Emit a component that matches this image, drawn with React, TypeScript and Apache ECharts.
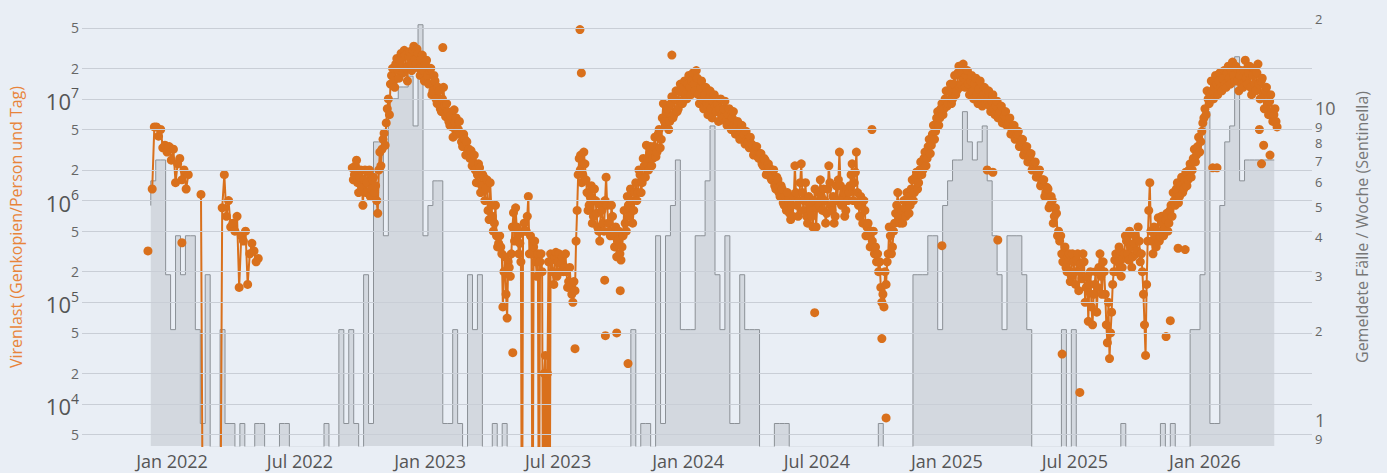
import React, { useEffect, useRef } from 'react';
import * as echarts from 'echarts';

const DAY = 86400000;
const BLD = 0.0001; // below detection limit (drawn under the axis floor), in millions

// Sentinella: reported cases per week, weeks starting at caseWeekStart
const caseWeekStart = '2021-12-02';
const casesPerWeek = [
  5, 6, 7, 7, 3, 2, 4, 3, 4, 4, 2, 1, 3, 0, 0, 2, 1, 1, 0, 1,
  0, 0, 1, 1, 0, 0, 0, 1, 1, 0, 0, 0, 0, 0, 0, 0, 1, 0, 0, 2,
  1, 2, 1, 0, 3, 1, 8, 8, 4, 11, 11, 12, 12, 13, 9, 19, 4, 5, 6, 6,
  1, 1, 2, 1, 0, 3, 2, 3, 0, 0, 1, 0, 1, 0, 0, 0, 0, 0, 0, 0,
  0, 0, 0, 0, 0, 0, 0, 0, 0, 0, 0, 0, 0, 0, 0, 0, 0, 0, 2, 0,
  1, 1, 0, 4, 1, 4, 5, 7, 2, 2, 2, 4, 4, 6, 9, 3, 2, 4, 1, 1,
  3, 2, 2, 2, 0, 0, 0, 1, 1, 1, 0, 0, 0, 0, 0, 0, 0, 0, 0, 0,
  0, 0, 0, 0, 0, 0, 0, 0, 1, 0, 0, 0, 0, 0, 0, 3, 3, 3, 4, 4,
  2, 5, 6, 7, 7, 10, 8, 7, 8, 9, 6, 4, 3, 2, 4, 4, 4, 3, 2, 0,
  0, 0, 0, 0, 0, 2, 0, 2, 0, 0, 0, 0, 0, 0, 0, 0, 0, 1, 0, 0,
  0, 0, 0, 0, 0, 1, 0, 1, 0, 0, 0, 2, 2, 3, 10, 1, 1, 5, 8, 9,
  15, 6, 7, 7, 7, 7, 7,
];

// Viral load, millions of gene copies per person and day.
// "A" arrays: one value every 3 days from the start date; "B" arrays: the
// measurements in between (1.5 days later than the matching A value).
const vl2122Start = '2021-12-04';
const vl2122 = [
  1.3, 5.3, 5.3, 4.3, 5.0, 3.3, 3.5, 3.0, 3.4, 2.5,
  3.2, 1.5, 2.3, 2.6, 1.6, 2.0, 1.3, 1.8, null, null,
  null, null, null, 1.15, BLD, BLD, BLD, BLD, BLD, BLD,
  BLD, BLD, BLD, 0.85, 1.8, 0.7, 1.0, 0.55, 0.6, 0.5,
  0.7, 0.14, 0.45, 0.4, 0.5, 0.15, 0.3, 0.38, 0.32, 0.25,
  0.27,
];

const vl2223Start = '2022-09-13';
const vl2223A = [
  2.1, 1.8, 2.5, 1.2, 2.0, 0.9, 2.0, 1.5, 2.0, 1.3,
  1.7, 1.4, 0.75, 3.0, 3.2, 4.6, 5.8, 10, 14, 20,
  13, 25, 16, 28, 18, 27, 15, 29, 19, 33,
  22, 28, 17, 27, 15, 24, 14, 20, 12, 15,
  9, 12, 7.5, 13, 6.7, 7.5, 5.5, 5.3, 7.8, 6.5,
  5, 4.6, 3.4, 4, 3.8, 3.2, 3.1, 2.4, 2.0, 1.8,
  2.1, 1.4, 1.7, 1.3, 0.8, 1.5, 0.7, 0.6, 0.45, 0.38,
  0.35, 0.09, 0.28, 0.07, 0.22, 0.3, 0.76, 0.85, 0.45, 0.38,
  BLD, 0.6, 0.5, 1.1, 0.45, BLD, 0.4, 0.18, BLD, 0.3,
  BLD, 0.03, 0.02, BLD, 0.26, 0.15, 0.31, 0.25, 0.2, 0.28,
  0.22, 0.2, 0.16, 0.15, 0.1, 0.13, 0.8, 2.6,
];
const vl2223B = [
  1.6, 2.2, 1.5, 1.7, 1.4, 1.6, 1.2, 1.9, 1.1, 1.6,
  1.2, 1.0, 2.0, 2.2, 4.0, 3.5, 8, 7, 17, 15,
  22, 19, 24, 21, 30, 20, 26, 22, 30, 24,
  31, 20, 25, 19, 22, 17, 19, 11, 17, 10,
  13, 8, 10, 8.5, 9, 6, 6.8, 4.2, 5.8, 4.5,
  6, 3.8, 4.5, 2.8, 3.0, 2.6, 2.2, 2.8, 1.5, 2.3,
  1.2, 1.8, 1.0, 1.6, 0.65, 0.9, 0.5, 0.9, 0.35, 0.45,
  0.3, 0.2, 0.12, 0.25, 0.18, 0.55, 0.4, 0.55, 0.3, 0.25,
  0.5, 0.5, 0.7, 0.3, 0.3, 0.35, 0.25, 0.3, 0.25, 0.2,
  0.02, BLD, 0.25, 0.3, 0.2, 0.28, 0.18, 0.3, 0.24, 0.2,
  0.3, 0.14, 0.22, 0.12, 0.16, 0.4, 1.8, 2.0,
];

const vl2324Start = '2023-08-02';
const vl2324A = [
  2.8, 1.8, 2.3, 1.2, 0.9, 1.4, 0.7, 1.0, 0.55, 0.4,
  0.8, 0.5, 1.7, 0.6, 0.45, 0.7, 0.35, 0.28, 0.5, 0.26,
  0.45, 0.6, 1.1, 0.7, 1.0, 0.8, 1.5, 1.2, 1.8, 1.5,
  2.2, 3.5, 2.0, 3.4, 2.6, 4.2, 3.0, 5.0, 4.0, 9,
  5.5, 8, 6, 10.5, 7, 12, 8, 14, 9, 15,
  10, 17, 11, 18, 12, 16, 9,
  15, 8, 13, 7, 12, 6.5, 11, 7.5, 6, 10,
  6.5, 9.5, 5.5, 8, 5, 7.5, 4.5, 6, 4, 5.5,
  4.5, 4.8, 3.8, 4.2, 3.5, 3.0, 3.4, 2.6, 2.9, 2.2,
  2.5, 1.9, 2.1, 1.6, 2.0, 1.3, 1.6, 1.1, 1.3, 0.9,
  0.8, 1.0, 0.65, 0.7, 2.2, 0.9, 1.0, 2.3, 0.8, 1.5,
  0.6, 0.9, 0.7, 1.0, 0.55, 1.2, 1.6, 0.8, 1.0, 0.75,
  2.2, 0.9, 1.1, 0.7, 1.0, 3.0, 0.9, 1.2, 0.8, 1.0,
  1.4, 2.3, 1.5, 3.0, 0.9, 1.1, 0.6, 0.8, 0.55, 0.45,
  0.5, 0.5, 0.35, 0.3, 0.25, 0.1, 0.09, 0.15, 0.3, 0.45,
  0.35, 0.6, 0.9, 0.7,
];
const vl2324B = [
  1.5, 3.0, 1.6, 0.8, 1.1, 0.6, 1.3, 0.75, 0.5, 0.9,
  0.6, 1.0, 0.9, 0.5, 0.9, 0.45, 0.55, 0.4, 0.3, 0.35,
  0.8, 0.5, 0.9, 1.3, 0.6, 1.2, 1.0, 2.0, 1.2, 2.6,
  1.7, 2.6, 2.9, 2.2, 3.4, 2.7, 4.5, 3.3, 6.5, 6,
  7.5, 5, 9, 6.5, 10, 7.5, 12, 9.5, 13, 11,
  14, 13, 15, 14, 19, 11, 13,
  10, 11, 9, 10, 8, 9.5, 8.5, 9, 8, 7,
  8, 6, 7, 6, 6.5, 5.5, 5.5, 4.8, 4.8, 4.2,
  3.6, 4.0, 3.3, 3.6, 2.8, 3.3, 2.7, 2.9, 2.3, 2.6,
  1.8, 2.3, 1.7, 1.8, 1.4, 1.7, 1.2, 1.4, 0.95, 1.1,
  1.2, 0.75, 0.9, 1.1, 1.2, 0.7, 1.5, 1.2, 1.0, 0.7,
  1.1, 0.8, 0.55, 1.3, 0.85, 0.9, 1.1, 1.3, 0.6, 1.3,
  1.5, 0.8, 0.6, 1.4, 1.6, 1.4, 1.1, 0.7, 1.3, 1.2,
  1.8, 1.0, 1.9, 1.2, 0.7, 0.9, 1.0, 0.45, 0.6, 0.35,
  0.4, 0.3, 0.25, 0.2, 0.14, 0.12, 0.2, 0.25, 0.55, 0.3,
  0.5, 0.75, 1.2, 0.6,
];

const vl2425Start = '2024-10-29';
const vl2425A = [
  0.8, 1.0, 0.7, 1.1, 0.9, 1.6, 1.2, 1.9, 1.5, 2.4,
  2.0, 3.0, 2.6, 4.0, 3.5, 5.5, 4.8, 7.5, 6.5, 9,
  8, 12, 9, 14, 10, 17, 12, 21, 14, 22,
  13, 19, 11, 17, 10, 16, 9, 15, 8.5, 13,
  11.5, 12, 7.5, 11, 7, 9.5, 7, 8.5, 6.5, 7.5,
  5.5, 6.5, 5, 5.5, 4.2, 4.8, 3.6, 4.0, 3.0, 3.4,
  2.6, 2.9, 2.2, 2.4, 1.8, 2.0, 1.5, 1.6, 1.2, 1.3,
  0.9, 1.0, 0.7, 0.75, 0.5, 0.45,
  0.25, 0.35, 0.2, 0.3, 0.18, 0.25, 0.15, 0.3, 0.2, 0.17,
  0.25, 0.14, 0.065, 0.2, 0.06, 0.15, 0.08, 0.22, 0.18, 0.25,
  0.12, 0.04, 0.028, 0.08, 0.2, 0.3, 0.25, 0.32, 0.22, 0.3,
  0.4, 0.26, 0.35, 0.28, 0.45, 0.32, 0.4, 0.3, 0.12, 0.03,
  0.4, 1.5,
];
const vl2425B = [
  0.6, 0.85, 1.2, 0.75, 1.3, 1.0, 1.7, 1.3, 2.0, 1.8,
  2.6, 2.2, 3.4, 2.9, 4.5, 4.0, 6.5, 5.5, 8, 7,
  10, 8.5, 12, 9, 14, 11, 18, 13, 18, 16,
  17, 14, 15, 12, 14, 11, 12.5, 10, 11, 9,
  9.5, 8.5, 9.5, 8, 8.5, 6.5, 7.5, 5.8, 6.8, 5.5,
  6, 4.5, 5.2, 4.0, 4.5, 3.4, 3.8, 2.8, 3.2, 2.4,
  2.7, 2.0, 2.3, 1.7, 1.9, 1.4, 1.6, 1.1, 1.35, 0.85,
  1.1, 0.6, 0.85, 0.45, 0.4, 0.3,
  0.3, 0.22, 0.28, 0.16, 0.3, 0.2, 0.26, 0.13, 0.24, 0.3,
  0.1, 0.18, 0.15, 0.09, 0.12, 0.2, 0.14, 0.3, 0.12, 0.2,
  0.06, 0.1, 0.05, 0.15, 0.26, 0.2, 0.35, 0.18, 0.27, 0.45,
  0.3, 0.5, 0.22, 0.38, 0.3, 0.55, 0.25, 0.2, 0.06, 0.15,
  0.8, 0.5,
];

const vl2526Start = '2025-10-18';
const vl2526A = [
  0.4, 0.55, 0.35, 0.68, 0.44, 0.6, 0.52, 0.75, 0.6, 0.9,
  1.2, 0.9, 1.5, 1.1, 1.7, 1.3, 1.9, 1.6, 2.3, 2.0,
  3.2, 2.8, 4.2, 3.8, 5.8, 8, 12, 9, 15, 10,
  17, 11, 18, 12, 19, 13, 21, 14, 23, 15,
  20, 12, 19, 13, 24, 14, 21, 11, 20, 12,
  22, 10, 16, 8, 13, 7, 11, 6, 8, 5.3,
];
const vl2526B = [
  0.3, 0.45, 0.5, 0.4, 0.7, 0.45, 0.65, 0.5, 0.8, 0.7,
  1.0, 1.3, 0.95, 1.4, 1.2, 1.6, 1.4, 2.0, 1.7, 2.6,
  2.4, 3.4, 3.0, 4.8, 6.5, 7, 10, 11, 12, 13,
  14, 15, 13, 16, 14, 18, 16, 19, 17, 21,
  15, 17, 14, 19, 16, 18, 13, 17, 14, 18,
  14, 15, 11, 12, 9, 9.5, 7.5, 7, 6,
];

// isolated measurements (millions)
const vlOutliers: [string, number][] = [
  ['2021-11-28', 0.32], ['2022-01-15', 0.385], ['2023-01-19', 32],
  ['2023-04-28', 0.032], ['2023-07-25', 0.035], ['2023-08-01', 48],
  ['2023-08-03', 18], ['2023-09-05', 0.165], ['2023-09-06', 0.047],
  ['2023-09-22', 0.05], ['2023-09-27', 0.13], ['2023-10-08', 0.025],
  ['2023-12-09', 27], ['2024-06-28', 0.079], ['2024-09-17', 5.0],
  ['2024-10-01', 0.044], ['2024-10-07', 0.0073], ['2024-12-25', 0.36],
  ['2025-02-27', 2.0], ['2025-03-07', 1.9], ['2025-03-14', 0.41],
  ['2025-06-13', 0.031], ['2025-07-08', 0.013], ['2025-11-07', 0.046],
  ['2025-11-13', 0.066], ['2025-11-24', 0.34], ['2025-12-04', 0.33],
  ['2026-01-12', 2.1], ['2026-01-18', 2.1], ['2026-03-19', 5.0],
  ['2026-03-22', 2.3], ['2026-03-25', 3.5], ['2026-04-03', 2.8],
];

const leftTicks = [5e3, 1e4, 2e4, 5e4, 1e5, 2e5, 5e5, 1e6, 2e6, 5e6, 1e7, 2e7, 5e7];
const rightTicks = [0.9, 1, 2, 3, 4, 5, 6, 7, 8, 9, 10, 20];
const xTicks = ['2022-01-01', '2022-07-01', '2023-01-01', '2023-07-01', '2024-01-01',
  '2024-07-01', '2025-01-01', '2025-07-01', '2026-01-01'];
const MONTHS = ['Jan', 'Feb', 'Mar', 'Apr', 'May', 'Jun', 'Jul', 'Aug', 'Sep', 'Oct', 'Nov', 'Dec'];

const FONT = '"Open Sans", "Noto Sans", sans-serif';
const ORANGE = '#d9701c';
const BG = '#e9eef5';

function utc(s: string) {
  const [y, m, d] = s.split('-').map(Number);
  return Date.UTC(y, m - 1, d);
}

function seg(start: string, a: (number | null)[], b: (number | null)[] = [], stepDays = 3) {
  const t0 = utc(start);
  const out: any[] = [];
  a.forEach((v, i) => {
    out.push([t0 + i * stepDays * DAY, v == null ? '-' : v * 1e6]);
    if (i < b.length) {
      const w = b[i];
      out.push([t0 + (i + 0.5) * stepDays * DAY, w == null ? '-' : w * 1e6]);
    }
  });
  return out;
}

function leftLabel(v: number) {
  const e = Math.round(Math.log10(v));
  if (Math.abs(v - Math.pow(10, e)) < 1e-6 * v) return `{base|10}{sup|${e}}`;
  const m = Math.round(v / Math.pow(10, Math.floor(Math.log10(v))));
  return `{minor|${m}}`;
}

function rightLabel(v: number) {
  if (v === 20) return '2';
  if (v === 0.9) return '9';
  return String(v);
}

export default function App() {
  const ref = useRef<HTMLDivElement>(null);

  useEffect(() => {
    if (!ref.current) return;
    const chart = echarts.init(ref.current, undefined, { renderer: 'svg' });

    const X_MIN = utc('2022-01-01') - 127.3 * DAY;
    const X_MAX = utc('2022-01-01') + 1612.4 * DAY;

    const c0 = utc(caseWeekStart);
    const caseData = casesPerWeek.map((c, k) => [c0 + k * 7 * DAY, c > 0 ? c : 0.01]);
    caseData.push([c0 + casesPerWeek.length * 7 * DAY, casesPerWeek[casesPerWeek.length - 1]]);

    const mainLine = [
      ...seg(vl2122Start, vl2122),
      [utc('2022-07-01'), '-'],
      ...seg(vl2223Start, vl2223A, vl2223B),
      ...seg(vl2324Start, vl2324A, vl2324B),
      ...seg(vl2425Start, vl2425A, vl2425B),
      ...seg(vl2526Start, vl2526A, vl2526B),
    ];
    const outliers = vlOutliers.map(([d, v]) => [utc(d), v * 1e6]);

    chart.setOption({
      animation: false,
      backgroundColor: BG,
      grid: { left: 82, right: 75, top: 8, bottom: 27, containLabel: false },
      xAxis: {
        type: 'value',
        min: X_MIN,
        max: X_MAX,
        axisLine: { show: false },
        axisTick: { show: false },
        splitLine: { show: false },
        axisLabel: {
          customValues: xTicks.map(utc),
          formatter: (v: number) => {
            const d = new Date(v);
            return `${MONTHS[d.getUTCMonth()]} ${d.getUTCFullYear()}`;
          },
          color: '#555',
          fontSize: 18,
          fontFamily: FONT,
          margin: 6,
          showMinLabel: true,
          showMaxLabel: true,
        },
      },
      yAxis: [
        {
          type: 'log',
          min: 3864,
          max: 7.83e7,
          axisLine: { show: false },
          axisTick: { show: false },
          axisLabel: { show: false },
          splitLine: { show: false },
          name: 'Virenlast (Genkopien/Person und Tag)',
          nameLocation: 'middle',
          nameRotate: 90,
          nameGap: 58,
          nameTextStyle: { color: '#e8843a', fontSize: 16, fontFamily: FONT },
        },
        {
          type: 'log',
          min: 0.847,
          max: 21.5,
          position: 'right',
          axisLine: { show: false },
          axisTick: { show: false },
          axisLabel: { show: false },
          splitLine: { show: false },
          name: 'Gemeldete Fälle / Woche (Sentinella)',
          nameLocation: 'middle',
          nameRotate: 90,
          nameGap: 42,
          nameTextStyle: { color: '#777', fontSize: 16, fontFamily: FONT },
        },
      ],
      series: [
        {
          name: 'gridLeft',
          type: 'line',
          yAxisIndex: 0,
          data: [],
          z: 1,
          markLine: {
            silent: true,
            symbol: ['none', 'none'],
            animation: false,
            lineStyle: { color: '#c9ced6', width: 1, type: 'solid' },
            label: {
              position: 'start',
              distance: 3,
              fontFamily: FONT,
              rich: {
                base: { fontSize: 22, color: '#555', fontFamily: FONT, lineHeight: 26, verticalAlign: 'bottom' },
                sup: { fontSize: 14, color: '#555', fontFamily: FONT, lineHeight: 14, verticalAlign: 'top' },
                minor: { fontSize: 14, color: '#666', fontFamily: FONT },
              },
            },
            data: leftTicks.map((v) => ({ yAxis: v, label: { formatter: leftLabel(v) } })),
          },
        },
        {
          name: 'rightLabels',
          type: 'line',
          yAxisIndex: 1,
          data: [],
          z: 1,
          markLine: {
            silent: true,
            symbol: ['none', 'none'],
            animation: false,
            lineStyle: { color: 'rgba(0,0,0,0)', width: 1 },
            label: { position: 'end', distance: 3, color: '#666', fontFamily: FONT, opacity: 1 },
            data: rightTicks.map((v) => {
              const major = v === 1 || v === 10;
              return {
                yAxis: v,
                label: {
                  formatter: rightLabel(v),
                  fontSize: major ? 18 : 13,
                  offset: major ? [0, -4] : [0, 1],
                },
              };
            }),
          },
        },
        {
          name: 'Gemeldete Fälle',
          type: 'line',
          yAxisIndex: 1,
          step: 'start',
          data: caseData,
          symbol: 'none',
          z: 2,
          lineStyle: { color: '#8b9096', width: 1 },
          areaStyle: { color: 'rgba(160,164,170,0.42)', origin: 'start' },
        },
        {
          name: 'Virenlast',
          type: 'line',
          yAxisIndex: 0,
          data: mainLine,
          connectNulls: false,
          symbol: 'circle',
          symbolSize: 9,
          showSymbol: true,
          z: 3,
          itemStyle: { color: ORANGE },
          lineStyle: { color: ORANGE, width: 2 },
        },
        {
          name: 'Virenlast einzeln',
          type: 'scatter',
          yAxisIndex: 0,
          data: outliers,
          symbolSize: 9,
          z: 3,
          itemStyle: { color: ORANGE, opacity: 1 },
        },
      ],
    });

    return () => chart.dispose();
  }, []);

  return (
    <div
      ref={ref}
      style={{ position: 'fixed', left: 0, top: 0, width: 1387, height: 473, background: BG }}
    />
  );
}
